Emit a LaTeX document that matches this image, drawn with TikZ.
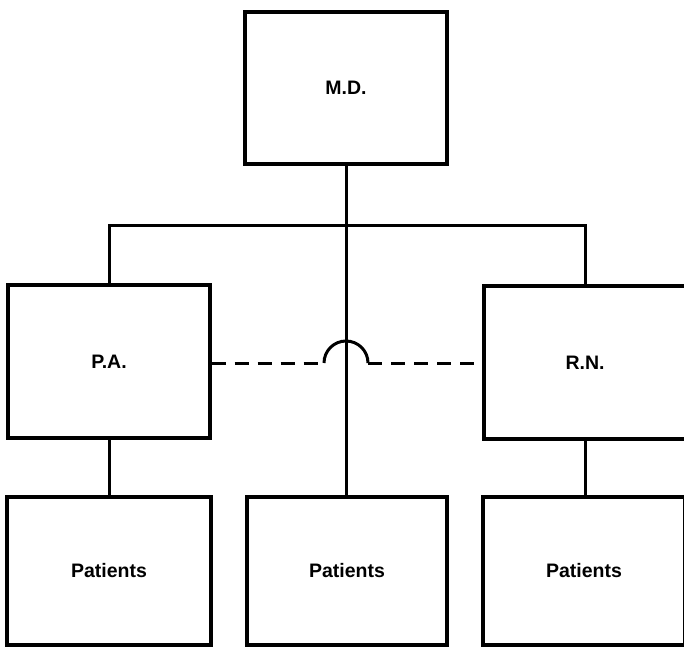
\documentclass[tikz,border=0pt]{standalone}
\usepackage{fontspec}
\setmainfont{Liberation Sans}
\begin{document}
\begin{tikzpicture}[x=1pt,y=-1pt,
  box/.style={draw,line width=3.4pt,minimum width=202pt,minimum height=152pt,inner sep=0pt,
    font=\fontsize{19.5}{22}\selectfont\bfseries},
  conn/.style={line width=3pt},
  dashconn/.style={line width=3pt,dash pattern=on 14pt off 9pt}]
\clip (0,0) rectangle (684,647);
\node[box] (MD) at (346,88) {M.D.};
\node[box,minimum height=153pt] (PA) at (109,361.5) {P.A.};
\node[box,minimum height=153pt] (RN) at (585,362.5) {R.N.};
\node[box,minimum width=204pt,minimum height=148pt] (P1) at (109,571) {Patients};
\node[box,minimum width=200pt,minimum height=148pt] (P2) at (347,571) {Patients};
\node[box,minimum height=148pt] (P3) at (584,571) {Patients};
\coordinate (hj) at (346,225);
\coordinate (a1) at (324,363);
\coordinate (a2) at (368,363);
\draw[conn] (MD.south) -- (P2.north -| MD.south);
\draw[conn] (PA.north) |- (hj) -| (RN.north);
\draw[conn] (PA.south) -- (P1.north -| PA.south);
\draw[conn] (RN.south) -- (P3.north -| RN.south);
\draw[dashconn] (PA.east |- a1) -- (a1);
\draw[conn] (a1) arc[start angle=180,end angle=360,radius=22];
\draw[dashconn] (a2) -- (RN.west |- a2);
\end{tikzpicture}
\end{document}
